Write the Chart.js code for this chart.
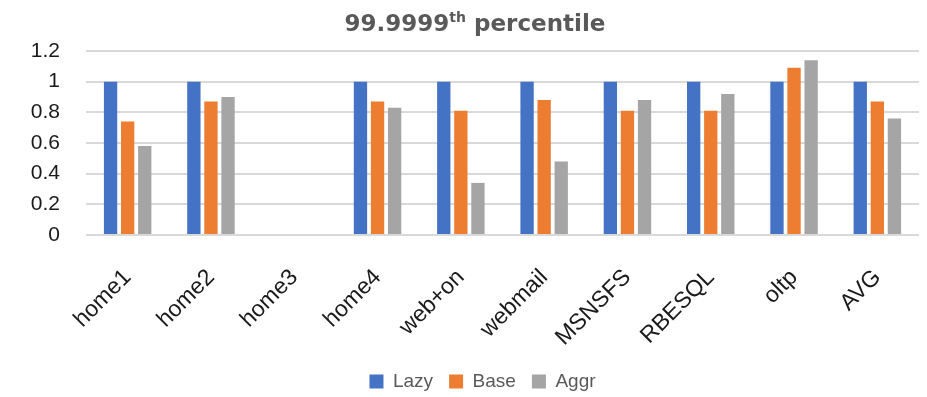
<!DOCTYPE html>
<html>
<head>
<meta charset="utf-8">
<script src="https://cdn.jsdelivr.net/npm/chart.js@4/dist/chart.umd.min.js"></script>
<style>
  html, body { margin: 0; padding: 0; background: #fff; }
  #wrap { width: 927px; height: 397px; }
</style>
</head>
<body>
<div id="wrap"><canvas id="c" width="927" height="397"></canvas></div>
<script>
// Workloads on the x axis
const categories = ['home1', 'home2', 'home3', 'home4', 'web+on', 'webmail', 'MSNSFS', 'RBESQL', 'oltp', 'AVG'];

// Normalized 99.9999th percentile latency (home3 has no data)
const lazy = [1, 1, null, 1, 1, 1, 1, 1, 1, 1];
const base = [0.74, 0.87, null, 0.87, 0.81, 0.88, 0.81, 0.81, 1.09, 0.87];
const aggr = [0.58, 0.90, null, 0.83, 0.34, 0.48, 0.88, 0.92, 1.14, 0.76];

// Y axis ticks
const yTicks = [0, 0.2, 0.4, 0.6, 0.8, 1, 1.2];

const titleMain = '99.9999';
const titleSup = 'th';
const titleRest = ' percentile';

const FONT = "'Liberation Sans', Arial, sans-serif";
const TITLE_FONT = "'DejaVu Sans', sans-serif";

// Title with a superscript ordinal, drawn on the canvas
const supTitle = {
  id: 'supTitle',
  afterLayout(chart) {
    // nudge the legend row a little to the right of the canvas centre
    const lg = chart.legend;
    if (lg) { lg.left += 19; lg.right += 19; }
  },
  afterDraw(chart) {
    const ctx = chart.ctx;
    ctx.save();
    ctx.fillStyle = '#595959';
    ctx.textBaseline = 'alphabetic';
    const big = "bold 23px " + TITLE_FONT;
    const small = "bold 14px " + TITLE_FONT;
    ctx.font = big;
    const w1 = ctx.measureText(titleMain).width;
    const w3 = ctx.measureText(titleRest).width;
    ctx.font = small;
    const w2 = ctx.measureText(titleSup).width;
    const total = w1 + w2 + w3;
    let x = 475 - total / 2;
    const y = 31;
    ctx.font = big;
    ctx.fillText(titleMain, x, y);
    x += w1;
    ctx.font = small;
    ctx.fillText(titleSup, x, y - 9);
    x += w2;
    ctx.font = big;
    ctx.fillText(titleRest, x, y);
    ctx.restore();
  }
};

new Chart(document.getElementById('c'), {
  type: 'bar',
  data: {
    labels: categories,
    datasets: [
      { label: 'Lazy', data: lazy, backgroundColor: '#4472C4' },
      { label: 'Base', data: base, backgroundColor: '#ED7D31' },
      { label: 'Aggr', data: aggr, backgroundColor: '#A5A5A5' }
    ]
  },
  options: {
    responsive: false,
    animation: false,
    layout: { padding: { left: 8, right: 8, top: 51, bottom: -4 } },
    datasets: {
      bar: { categoryPercentage: 0.615, barPercentage: 0.78 }
    },
    plugins: {
      title: { display: false },
      tooltip: { enabled: false },
      legend: {
        position: 'bottom',
        labels: {
          boxWidth: 14,
          boxHeight: 14,
          padding: 16,
          color: '#595959',
          font: { family: FONT, size: 19 }
        }
      }
    },
    scales: {
      x: {
        grid: { display: false },
        border: { display: false },
        ticks: {
          color: '#1a1a1a',
          font: { family: FONT, size: 23 },
          minRotation: 45,
          maxRotation: 45,
          padding: 21
        },
        afterFit(scale) { scale.height = 121; }
      },
      y: {
        min: 0,
        max: 1.2,
        afterBuildTicks(scale) { scale.ticks = yTicks.map(v => ({ value: v })); },
        grid: { color: '#D9D9D9', lineWidth: 2, drawTicks: false },
        border: { display: false },
        ticks: {
          color: '#1a1a1a',
          font: { family: FONT, size: 21 },
          padding: 26,
          callback: v => String(Number(v.toFixed(1)))
        },
        afterFit(scale) { scale.width = 78; }
      }
    }
  },
  plugins: [supTitle]
});
</script>
</body>
</html>
